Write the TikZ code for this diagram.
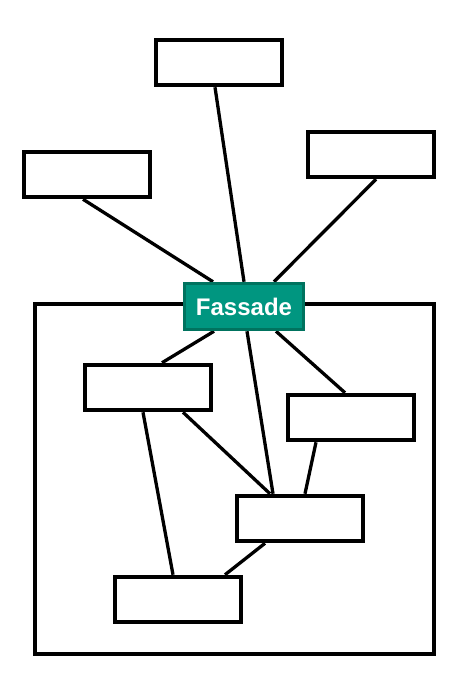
\documentclass[tikz,border=0pt]{standalone}
\usepackage{fontspec}
\setsansfont{Liberation Sans}
\usetikzlibrary{backgrounds}
\definecolor{teal1}{HTML}{009680}
\definecolor{teal2}{HTML}{00735F}
\tikzset{
BOX/.style ={draw=black,fill=white,line width=4.5pt,minimum width=126pt,minimum height=45pt,inner sep=0pt},
FASSADE/.style ={draw=teal2,fill=teal1,line width=3.5pt,minimum width=119pt,minimum height=46pt,inner sep=0pt,
  text=white,font=\sffamily\bfseries\fontsize{24}{28}\selectfont},
LINK/.style ={draw=black,line width=3.3pt},
FRAME/.style ={draw=black,line width=4.5pt},
}
\begin{document}
\begin{tikzpicture}
[x=1pt, y=-1pt]
	\useasboundingbox (0,0) rectangle (457,674);
	% outer clients
	\node[BOX] (top) at (219,62.5) {};
	\node[BOX] (left) at (87,174.5) {};
	\node[BOX] (right) at (371,154.5) {};
	% facade
	\node[FASSADE] (fassade) at (244,306.5) {Fassade};
	% subsystem
	\node[BOX] (subA) at (148,387.5) {};
	\node[BOX] (subB) at (351,417.5) {};
	\node[BOX] (subC) at (300,518.5) {};
	\node[BOX] (subD) at (178,599.5) {};
	\begin{scope}[on background layer]
	\path[FRAME] (35,304) rectangle (434,654);
	\path[LINK] ([xshift=-4pt]top.south) -- (fassade.north);
	\path[LINK] ([xshift=-4pt]left.south) -- ([xshift=-31pt]fassade.north);
	\path[LINK] ([xshift=5pt]right.south) -- ([xshift=30pt]fassade.north);
	\path[LINK] ([xshift=-30pt]fassade.south) -- ([xshift=14pt]subA.north);
	\path[LINK] ([xshift=32pt]fassade.south) -- ([xshift=-6pt]subB.north);
	\path[LINK] ([xshift=3pt]fassade.south) -- ([xshift=-27pt]subC.north);
	\path[LINK] ([xshift=-5pt]subA.south) -- ([xshift=-5pt]subD.north);
	\path[LINK] ([xshift=35pt]subA.south) -- ([xshift=-30pt]subC.north);
	\path[LINK] ([xshift=-35pt]subB.south) -- ([xshift=5pt]subC.north);
	\path[LINK] ([xshift=-35pt]subC.south) -- ([xshift=47pt]subD.north);
	\end{scope}
\end{tikzpicture}
\end{document}
